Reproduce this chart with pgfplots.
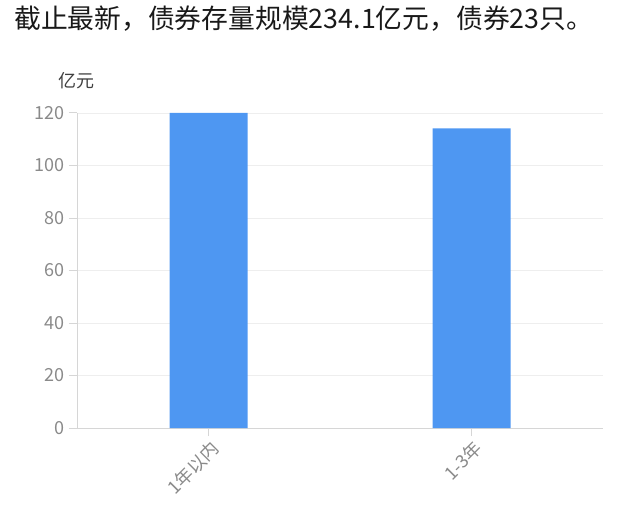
\documentclass[border=0pt]{standalone}
\usepackage{pgfplots}
\pgfplotsset{compat=1.18}
\usepackage{fontspec}
\setmainfont{Noto Sans CJK SC}
\definecolor{barblue}{HTML}{4E97F2}
\definecolor{gridc}{HTML}{EEEEEE}
\definecolor{axisc}{HTML}{D6D6D6}
\definecolor{tickc}{HTML}{8A8A8A}
\begin{document}
\begin{tikzpicture}[x=1pt,y=1pt]
\path (0,0) rectangle (640,507);
\node[anchor=west,inner sep=0pt,font=\fontsize{26.8}{30}\selectfont,text=black!90] at (14,488) {截止最新，债券存量规模234.1亿元，债券23只。};
\node[inner sep=0pt,font=\fontsize{18}{22}\selectfont,text=black!75] at (76,426) {亿元};
\begin{axis}[
  at={(77pt,79pt)}, anchor=south west,
  scale only axis, width=526pt, height=315pt,
  xmin=-0.5, xmax=1.5, ymin=0, ymax=120,
  xtick={0,1}, xticklabels={1年以内,1-3年},
  ytick={0,20,...,120},
  /pgf/number format/assume math mode=true,
  ymajorgrids, grid style={gridc, line width=0.8pt},
  axis x line*=bottom, axis y line*=left,
  axis line style={axisc, line width=1pt, -},
  tick style={axisc, line width=1pt},
  tick align=outside, major tick length=8pt,
  ticklabel style={text=tickc, font=\fontsize{18}{22}\selectfont},
  xticklabel style={rotate=45, anchor=north east, inner sep=1pt, yshift=-2pt},
  yticklabel style={inner sep=2pt, xshift=-2pt},
  ybar, bar width=78pt,
]
\addplot[fill=barblue, draw=none] coordinates {(0,120.0) (1,114.1)};
\end{axis}
\end{tikzpicture}
\end{document}
